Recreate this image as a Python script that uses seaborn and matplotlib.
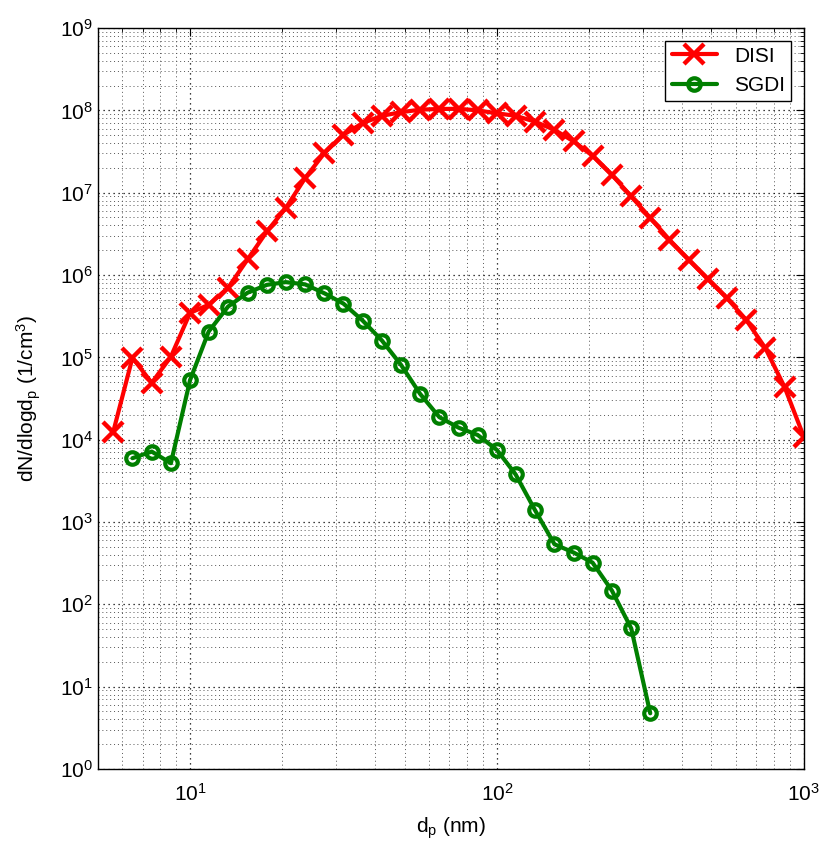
import matplotlib
matplotlib.use("Agg")
import matplotlib.pyplot as plt
import matplotlib.ticker as mticker
import seaborn as sns

# bin diameters (nm)
disi_dp = [5.62, 6.49, 7.5, 8.66, 10, 11.5, 13.3, 15.4, 17.8, 20.5, 23.7, 27.4,
           31.6, 36.5, 42.2, 48.7, 56.2, 64.9, 75, 86.6, 100, 115, 133, 154,
           178, 205, 237, 274, 316, 365, 422, 487, 562, 649, 750, 866, 1000]
disi_n = [1.25e4, 9.9e4, 4.9e4, 1.02e5, 3.47e5, 4.35e5, 7.0e5, 1.55e6, 3.38e6,
          6.5e6, 1.5e7, 3.03e7, 5.05e7, 7.0e7, 8.6e7, 9.5e7, 1.02e8, 1.04e8,
          1.045e8, 1.0e8, 9.2e7, 8.6e7, 7.3e7, 5.8e7, 4.19e7, 2.81e7, 1.65e7,
          9.0e6, 4.95e6, 2.68e6, 1.53e6, 8.9e5, 5.24e5, 2.86e5, 1.29e5, 4.35e4,
          1.09e4]

sgdi_dp = [6.49, 7.5, 8.66, 10, 11.5, 13.3, 15.4, 17.8, 20.5, 23.7, 27.4, 31.6,
           36.5, 42.2, 48.7, 56.2, 64.9, 75, 86.6, 100, 115, 133, 154, 178,
           205, 237, 274, 316]
sgdi_n = [5960, 7170, 5180, 5.3e4, 2.06e5, 4.14e5, 6.1e5, 7.6e5, 8.2e5, 7.7e5,
          6.0e5, 4.5e5, 2.8e5, 1.6e5, 8.1e4, 3.6e4, 1.88e4, 1.40e4, 1.14e4,
          7.5e3, 3.8e3, 1.4e3, 537, 425, 321, 147, 51, 4.75]

RED = "#ff0000"
GREEN = "#007f00"

sns.set_style("white")
plt.rcParams["font.family"] = ["Liberation Sans", "DejaVu Sans"]
plt.rcParams["mathtext.fontset"] = "custom"
plt.rcParams["mathtext.rm"] = "Liberation Sans"
plt.rcParams["mathtext.it"] = "Liberation Sans"
plt.rcParams["text.color"] = "black"
plt.rcParams["axes.labelcolor"] = "black"
plt.rcParams["xtick.color"] = "black"
plt.rcParams["ytick.color"] = "black"

fig = plt.figure(figsize=(8.21, 8.42), dpi=100)
ax = fig.add_axes([0.119, 0.0867, 0.860, 0.880])

sns.lineplot(x=disi_dp, y=disi_n, ax=ax, color=RED, linewidth=3,
             marker="x", markersize=15, markeredgewidth=3.2,
             markeredgecolor=RED, label="DISI")
sns.lineplot(x=sgdi_dp, y=sgdi_n, ax=ax, color=GREEN, linewidth=3,
             marker="o", markersize=9, markeredgewidth=3, markerfacecolor="none",
             markeredgecolor=GREEN, label="SGDI")

ax.set_xscale("log")
ax.set_yscale("log")
ax.set_xlim(5, 1000)
ax.set_ylim(1, 1e9)

ax.yaxis.set_major_locator(mticker.LogLocator(base=10, numticks=20))
ax.yaxis.set_minor_locator(mticker.LogLocator(base=10, subs=range(2, 10), numticks=20))
ax.yaxis.set_minor_formatter(mticker.NullFormatter())
ax.xaxis.set_minor_locator(mticker.LogLocator(base=10, subs=range(2, 10), numticks=20))
ax.xaxis.set_minor_formatter(mticker.NullFormatter())

ax.grid(True, which="major", color="black", linestyle=(0, (1, 3)), linewidth=0.9)
ax.grid(True, which="minor", color="#555555", linestyle=(0, (1, 3)), linewidth=0.7)
ax.tick_params(which="both", direction="in", top=True, right=True, labelsize=15)
ax.tick_params(which="major", length=6)
ax.tick_params(which="minor", length=3)
ax.tick_params(axis="x", pad=10)
for s in ax.spines.values():
    s.set_color("black")
    s.set_linewidth(1)

ax.set_xlabel(r"d$_\mathregular{p}$ (nm)", fontsize=15, labelpad=8)
ax.set_ylabel(r"dN/dlogd$_\mathregular{p}$ (1/cm$^\mathregular{3}$)", fontsize=15,
              labelpad=12)

leg = ax.legend(loc="upper right", fontsize=15, frameon=True, fancybox=False,
                edgecolor="black", framealpha=1, handlelength=2.2,
                borderaxespad=0.6, borderpad=0.3)
leg.get_frame().set_linewidth(1)

fig.savefig("out.png", dpi=100)
